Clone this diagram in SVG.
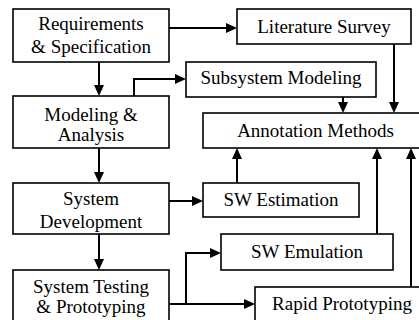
<svg xmlns="http://www.w3.org/2000/svg" width="419" height="320" viewBox="0 0 419 320">
<defs>
<marker id="ah" viewBox="0 0 11 10" refX="7" refY="5" markerWidth="11" markerHeight="10" markerUnits="userSpaceOnUse" orient="auto">
<path d="M0,0 L11,5 L0,10 z" fill="#000"/>
</marker>
</defs>
<rect width="419" height="320" fill="#fff"/>
<g id="connectors" fill="none" stroke="#000" stroke-width="2" marker-end="url(#ah)">
<path d="M169,28 H233"/>
<path d="M99,62 V92"/>
<path d="M134,96 V79 H182"/>
<path d="M99,148 V179"/>
<path d="M99,234 V266"/>
<path d="M169,201 H199"/>
<path d="M237,183 V152"/>
<path d="M343,97 V109"/>
<path d="M394,44 V109"/>
<path d="M377,234 V152"/>
<path d="M411,287 V152"/>
<path d="M169,304 H251"/>
<path d="M186,304 V253 H217"/>
</g>
<g id="nodes" font-family="Liberation Serif" font-size="19" text-anchor="middle">
<g id="requirements">
<rect x="13" y="9" width="156" height="53" fill="#fff" stroke="#000" stroke-width="1.6"/>
<text x="91" y="30">Requirements</text>
<text x="91" y="53">&amp; Specification</text>
</g>
<g id="modeling">
<rect x="13" y="96" width="156" height="52" fill="#fff" stroke="#000" stroke-width="1.6"/>
<text x="91" y="121">Modeling &amp;</text>
<text x="91" y="141">Analysis</text>
</g>
<g id="sysdev">
<rect x="13" y="183" width="156" height="51" fill="#fff" stroke="#000" stroke-width="1.6"/>
<text x="91" y="205">System</text>
<text x="91" y="228">Development</text>
</g>
<g id="testing">
<rect x="13" y="270" width="156" height="60" fill="#fff" stroke="#000" stroke-width="1.6"/>
<text x="91" y="293">System Testing</text>
<text x="91" y="313">&amp; Prototyping</text>
</g>
<g id="litsurvey">
<rect x="237" y="9" width="174" height="35" fill="#fff" stroke="#000" stroke-width="1.6"/>
<text x="324" y="33">Literature Survey</text>
</g>
<g id="subsystem">
<rect x="186" y="62" width="190" height="35" fill="#fff" stroke="#000" stroke-width="1.6"/>
<text x="281" y="84">Subsystem Modeling</text>
</g>
<g id="annotation">
<rect x="203" y="113" width="225" height="35" fill="#fff" stroke="#000" stroke-width="1.6"/>
<text x="315.5" y="137">Annotation Methods</text>
</g>
<g id="swest">
<rect x="203" y="183" width="156" height="34" fill="#fff" stroke="#000" stroke-width="1.6"/>
<text x="281" y="206">SW Estimation</text>
</g>
<g id="swemu">
<rect x="221" y="234" width="172" height="36" fill="#fff" stroke="#000" stroke-width="1.6"/>
<text x="307" y="258">SW Emulation</text>
</g>
<g id="rapid">
<rect x="255" y="287" width="175" height="40" fill="#fff" stroke="#000" stroke-width="1.6"/>
<text x="342" y="310">Rapid Prototyping</text>
</g>
</g>
</svg>
